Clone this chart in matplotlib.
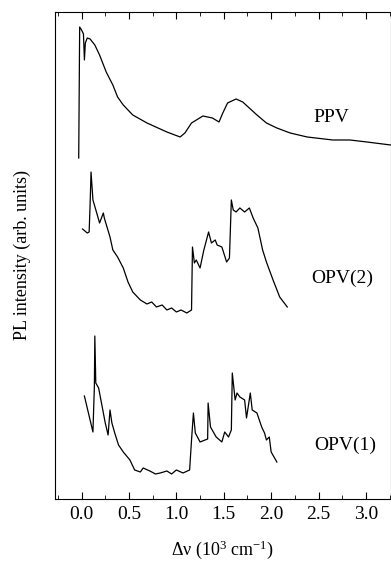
import matplotlib
matplotlib.use("Agg")
import matplotlib.pyplot as plt
from matplotlib.ticker import MultipleLocator

plt.rcParams['font.family'] = ['Liberation Serif', 'DejaVu Serif']
plt.rcParams['mathtext.fontset'] = 'custom'
plt.rcParams['mathtext.rm'] = 'Liberation Serif'
plt.rcParams['mathtext.it'] = 'Liberation Serif:italic'

# PPV spectrum (arb. offset units)
ppv_x = [-0.03, -0.02, 0.00, 0.02, 0.03, 0.04, 0.06, 0.09, 0.14, 0.19, 0.26, 0.33,
         0.38, 0.44, 0.54, 0.69, 0.90, 1.04, 1.09, 1.16, 1.28, 1.38, 1.45, 1.49,
         1.54, 1.63, 1.70, 1.85, 1.95, 2.06, 2.20, 2.38, 2.65, 2.83, 3.01, 3.26]
ppv_y = [341, 472, 469, 465, 439, 456, 461, 460, 454, 444, 427, 414,
         402, 394, 384, 376, 367, 362, 366, 376, 383, 381, 377, 386,
         396, 400, 397, 384, 376, 371, 366, 362, 359, 359, 357, 354]

# OPV(2) spectrum
opv2_x = [0.01, 0.06, 0.08, 0.09, 0.10, 0.12, 0.16, 0.19, 0.23, 0.24, 0.30, 0.33,
          0.38, 0.44, 0.49, 0.54, 0.62, 0.69, 0.74, 0.79, 0.85, 0.90, 0.95, 1.00,
          1.05, 1.11, 1.16, 1.17, 1.19, 1.21, 1.25, 1.29, 1.34, 1.37, 1.41, 1.43,
          1.48, 1.53, 1.56, 1.58, 1.60, 1.63, 1.67, 1.72, 1.77, 1.81, 1.86, 1.91,
          1.95, 2.02, 2.09, 2.17]
opv2_y = [270, 266, 267, 294, 327, 299, 286, 276, 286, 281, 262, 249,
          242, 231, 217, 207, 199, 195, 197, 192, 194, 189, 191, 187,
          189, 186, 189, 252, 236, 239, 231, 249, 267, 256, 259, 254,
          252, 237, 241, 299, 289, 287, 291, 287, 291, 281, 271, 249,
          237, 219, 202, 192]

# OPV(1) spectrum
opv1_x = [0.03, 0.12, 0.135, 0.14, 0.15, 0.18, 0.21, 0.25, 0.28, 0.30, 0.32, 0.35,
          0.39, 0.44, 0.51, 0.56, 0.62, 0.65, 0.72, 0.78, 0.83, 0.90, 0.95, 1.00,
          1.07, 1.14, 1.16, 1.18, 1.20, 1.25, 1.33, 1.335, 1.36, 1.42, 1.48, 1.51,
          1.55, 1.58, 1.59, 1.62, 1.64, 1.67, 1.72, 1.74, 1.78, 1.80, 1.85, 1.90,
          1.93, 1.95, 1.98, 2.00, 2.06]
opv1_y = [103, 67, 112, 163, 116, 111, 96, 76, 64, 89, 76, 66,
          54, 47, 39, 29, 27, 31, 28, 25, 26, 28, 25, 29,
          26, 29, 59, 86, 66, 57, 60, 96, 72, 62, 57, 67,
          62, 69, 126, 99, 106, 102, 99, 81, 106, 89, 86, 72,
          66, 59, 62, 47, 37]

labels = ["PPV", "OPV(2)", "OPV(1)"]
label_x = [2.63, 2.75, 2.78]
label_y = [381, 221, 54]

fig = plt.figure(figsize=(3.91, 5.63), dpi=100)
ax = fig.add_axes([0.1407, 0.1137, 0.8583, 0.865])

for xs, ys in [(ppv_x, ppv_y), (opv2_x, opv2_y), (opv1_x, opv1_y)]:
    ax.plot(xs, ys, color='black', linewidth=0.9)

for name, lx, ly in zip(labels, label_x, label_y):
    ax.text(lx, ly, name, fontsize=14, ha='center', va='center')

ax.set_xlim(-0.28, 3.26)
ax.set_ylim(0, 487)
ax.set_yticks([])
ax.xaxis.set_major_locator(MultipleLocator(0.5))
ax.xaxis.set_minor_locator(MultipleLocator(0.25))
ax.tick_params(axis='x', which='both', direction='in', top=True, labelsize=14)
ax.tick_params(axis='x', which='major', length=5, pad=5)
ax.tick_params(axis='x', which='minor', length=3)
ax.xaxis.set_major_formatter(plt.FuncFormatter(lambda v, p: f"{v:.1f}"))

ax.set_xlabel(r"Δν (10$^{3}$ cm$^{-1}$)", fontsize=13, labelpad=11)
ax.set_ylabel("PL intensity (arb. units)", fontsize=13, labelpad=17)

fig.savefig("out.png", dpi=100)
